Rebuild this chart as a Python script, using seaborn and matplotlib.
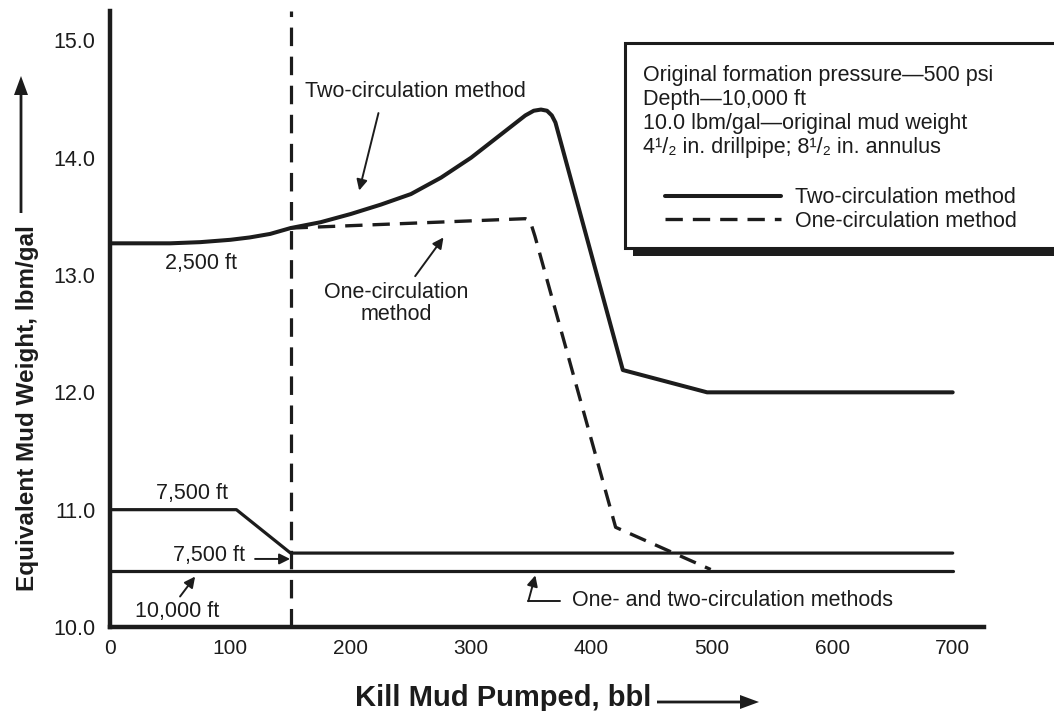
import matplotlib
matplotlib.use("Agg")
import matplotlib.pyplot as plt
from matplotlib import font_manager as fm
from matplotlib.patches import Rectangle, FancyArrow
import seaborn as sns

# ---------------- data ----------------
two_x = [0, 25, 50, 75, 100, 116, 133, 150, 175, 200, 225, 250, 275, 300, 320, 335, 345, 352, 358, 363, 367, 370, 426, 496, 700]
two_y = [13.27, 13.27, 13.27, 13.28, 13.30, 13.32, 13.35, 13.40, 13.45, 13.52, 13.60, 13.69, 13.83, 14.00, 14.16, 14.28, 14.36, 14.40, 14.41, 14.40, 14.36, 14.30, 12.19, 12.00, 12.00]

one_x = [150, 345, 349, 353, 420, 499]
one_y = [13.40, 13.48, 13.46, 13.33, 10.85, 10.49]

d7500_x = [0, 105, 150, 700]
d7500_y = [11.00, 11.00, 10.63, 10.63]

d10000_x = [0, 700]
d10000_y = [10.48, 10.48]

switch_x = 150

x_ticks = [0, 100, 200, 300, 400, 500, 600, 700]
y_ticks = [10.0, 11.0, 12.0, 13.0, 14.0, 15.0]

info_lines = ["Original formation pressure\u2014500 psi",
              "Depth\u201410,000 ft",
              "10.0 lbm/gal\u2014original mud weight",
              "4\u00b9/\u2082 in. drillpipe; 8\u00b9/\u2082 in. annulus"]

# ---------------- style ----------------
sns.set_style("white")
plt.rcParams["font.family"] = ["Liberation Sans", "DejaVu Sans"]
names = {f.name for f in fm.fontManager.ttflist}
narrow = "Liberation Sans Narrow" in names

INK = "#1c1c1c"
FS = 15.5

W, H = 1054, 711
fig = plt.figure(figsize=(W / 100, H / 100), dpi=100)
ax = fig.add_axes([110 / W, 84 / H, 874 / W, 616 / H])
ax.patch.set_alpha(0)

sns.lineplot(x=two_x, y=two_y, ax=ax, color=INK, lw=2.9, sort=False,
             estimator=None, label="Two-circulation method")
sns.lineplot(x=one_x, y=one_y, ax=ax, color=INK, lw=2.4, sort=False,
             estimator=None, linestyle=(0, (5.2, 3.0)),
             label="One-circulation method")
sns.lineplot(x=d7500_x, y=d7500_y, ax=ax, color=INK, lw=2.3, sort=False,
             estimator=None)
sns.lineplot(x=d10000_x, y=d10000_y, ax=ax, color=INK, lw=2.3, sort=False,
             estimator=None)
ax.axvline(switch_x, color=INK, lw=2.3, linestyle=(0, (5.8, 3.3)))

ax.set_xlim(0, 726)
ax.set_ylim(10.0, 15.25)
ax.set_xticks(x_ticks)
ax.set_yticks(y_ticks)
ax.set_xticklabels([str(v) for v in x_ticks])
ax.set_yticklabels([f"{v:.1f}" for v in y_ticks])
ax.tick_params(axis="both", direction="inout", length=9, width=1.6,
               colors=INK, labelsize=15, labelcolor=INK)
ax.tick_params(axis="y", pad=6, labelsize=15.5)
ax.tick_params(axis="x", pad=4)
for s in ["top", "right"]:
    ax.spines[s].set_visible(False)
for s in ["left", "bottom"]:
    ax.spines[s].set_linewidth(3.2)
    ax.spines[s].set_color(INK)
ax.set_xlabel("")
ax.set_ylabel("")

handles, labels = ax.get_legend_handles_labels()
if ax.get_legend() is not None:
    ax.get_legend().remove()

# ---------------- annotations ----------------
ap = dict(arrowstyle="-|>", color=INK, lw=1.4, mutation_scale=16,
          shrinkA=0, shrinkB=0)
ax.text(162, 14.56, "Two-circulation method", fontsize=FS, va="center", ha="left", color=INK)
ax.annotate("", xy=(207, 13.72), xytext=(223, 14.38), arrowprops=ap)

ax.text(238, 12.76, "One-circulation\nmethod", fontsize=FS, va="center",
        ha="center", color=INK, linespacing=1.05)
ax.annotate("", xy=(277, 13.32), xytext=(253.5, 12.99), arrowprops=ap)

ax.text(76, 13.10, "2,500 ft", fontsize=FS, va="center", ha="center", color=INK)
ax.text(68, 11.14, "7,500 ft", fontsize=FS, va="center", ha="center", color=INK)
ax.text(112, 10.61, "7,500 ft", fontsize=FS, va="center", ha="right", color=INK)
ax.annotate("", xy=(149.6, 10.58), xytext=(120.5, 10.58), arrowprops=ap)
ax.text(55.4, 10.13, "10,000 ft", fontsize=FS, va="center", ha="center", color=INK)
ax.annotate("", xy=(70.7, 10.43), xytext=(58.2, 10.26), arrowprops=ap)

ax.text(384, 10.23, "One- and two-circulation methods", fontsize=FS,
        va="center", ha="left", color=INK)
ax.plot([374, 347.5], [10.22, 10.22], color=INK, lw=1.4)
ax.annotate("", xy=(353.3, 10.44), xytext=(347.5, 10.22), arrowprops=ap)

# ---------------- info box with shadow ----------------
fig.add_artist(Rectangle((633 / W, 1 - 256 / H), (1075 - 633) / W, (256 - 51) / H,
                         transform=fig.transFigure, facecolor=INK, edgecolor=INK,
                         lw=0, zorder=5, clip_on=False))
fig.add_artist(Rectangle((625 / W, 1 - 248 / H), (1068 - 625) / W, (248 - 43) / H,
                         transform=fig.transFigure, facecolor="white", edgecolor=INK,
                         lw=2.2, zorder=6, clip_on=False))
for txt, yp in zip(info_lines, [75, 100, 123, 147]):
    fig.text(643 / W, 1 - yp / H, txt, fontsize=FS, va="center", ha="left",
             color=INK, zorder=7)

leg = fig.legend(handles[:2], labels[:2], loc="center left",
                 bbox_to_anchor=(665 / W, 1 - 209.5 / H), frameon=False,
                 fontsize=FS, handlelength=5.4, handletextpad=0.65,
                 labelspacing=0.12, borderpad=0, borderaxespad=0)
leg.set_zorder(8)
for t in leg.get_texts():
    t.set_color(INK)

# ---------------- axis titles with arrows ----------------
fig.text(503 / W, 1 - 706 / H, "Kill Mud Pumped, bbl", fontsize=21,
         fontweight="bold", ha="center", va="baseline", color=INK)
fig.add_artist(FancyArrow(657 / W, 1 - 702 / H, (740 - 657) / W, 0,
                          width=2.8 / H, head_width=14 / H, head_length=19 / W,
                          length_includes_head=False, transform=fig.transFigure,
                          color=INK, lw=0))

if narrow:
    fig.text(28 / W, 1 - 408 / H, "Equivalent Mud Weight, lbm/gal", fontsize=21,
             family=["Liberation Sans Narrow", "DejaVu Sans"], fontweight="bold",
             rotation=90, ha="center", va="center", color=INK)
else:
    fig.text(28 / W, 1 - 408 / H, "Equivalent Mud Weight, lbm/gal", fontsize=17.5,
             fontweight="bold", rotation=90, ha="center", va="center", color=INK)
fig.add_artist(FancyArrow(21 / W, 1 - 213 / H, 0, (213 - 95) / H,
                          width=2.8 / W, head_width=14 / W, head_length=19 / H,
                          length_includes_head=False, transform=fig.transFigure,
                          color=INK, lw=0))

fig.savefig("out.png", dpi=100)
